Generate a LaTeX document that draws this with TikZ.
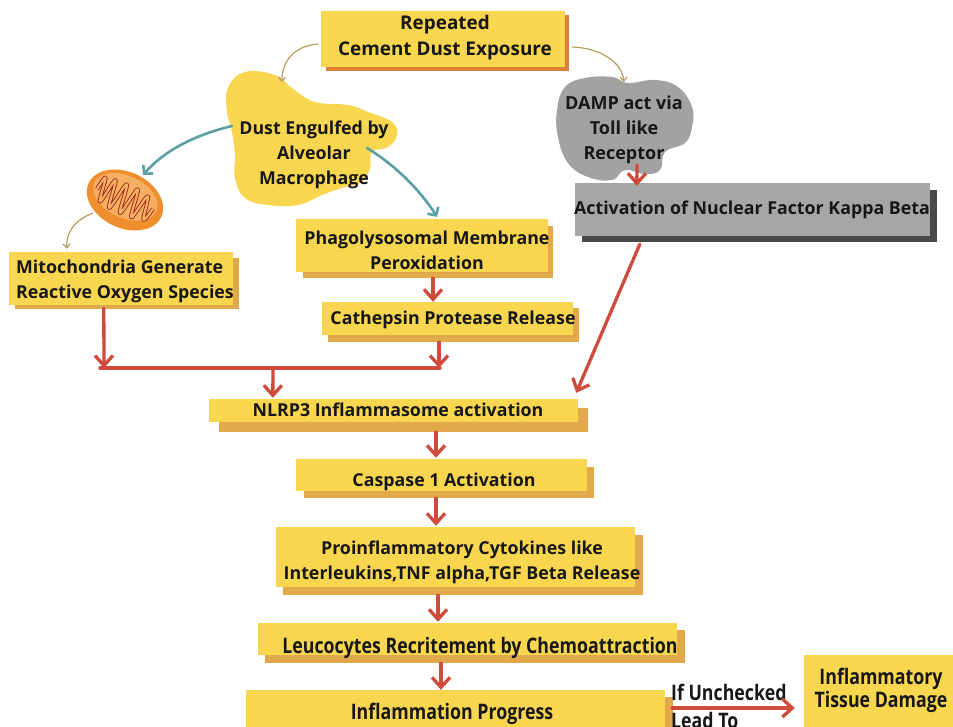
\documentclass[tikz,border=0pt]{standalone}
\usepackage{fontspec}
\setmainfont{Open Sans}
\newfontfamily\condfont{Open Sans}[FakeStretch=0.83]
\usetikzlibrary{arrows.meta,calc}
\definecolor{boxy}{HTML}{F9D650}
\definecolor{shy}{HTML}{E2A94B}
\definecolor{sho}{HTML}{DE7E36}
\definecolor{grayface}{HTML}{A6A6A6}
\definecolor{grayshadow}{HTML}{4A4A4A}
\definecolor{grayblob}{HTML}{A2A2A2}
\definecolor{redarr}{HTML}{CF4A3B}
\definecolor{tealarr}{HTML}{5B9FA7}
\definecolor{tanarr}{HTML}{B79C60}
\definecolor{ink}{HTML}{171717}
\definecolor{mitoout}{HTML}{EE8E2D}
\definecolor{mitoin}{HTML}{F6AF62}
\definecolor{crista}{HTML}{9E2A1C}
\begin{document}
\begin{tikzpicture}[x=1pt,y=-1pt,
 face/.style={fill=boxy, inner sep=0pt, draw=none},
 grayfacebox/.style={fill=grayface, inner sep=0pt, draw=none},
 txt/.style={inner sep=0pt, align=center, text=ink, font=\fontsize{17.8}{25}\selectfont\bfseries},
 ctxt/.style={inner sep=0pt, align=center, text=ink, font=\condfont\fontsize{21.4}{23}\selectfont\bfseries},
 btxt/.style={inner sep=0pt, align=center, text=ink, font=\fontsize{17.8}{25}\selectfont\bfseries},
 redline/.style={draw=redarr, line width=3.3pt, line cap=round, line join=round},
 redarrow/.style={redline, -{Straight Barb[length=10pt,width=18pt]}},
 tealarrow/.style={draw=tealarr, line width=2.6pt, line cap=round, -{Straight Barb[length=6pt,width=13pt]}},
 tanarrow/.style={draw=tanarr, line width=1.2pt, line cap=round, -{Straight Barb[length=4pt,width=7pt]}}
]
\useasboundingbox (0,0) rectangle (953,727);
\fill[white] (0,0) rectangle (953,727);

% shadows
\fill[sho] (326,15) rectangle (569,71);
\fill[shy] (15,258) rectangle (239,309);
\fill[shy] (303,226) rectangle (553,278);
\fill[shy] (328,308) rectangle (579,342);
\fill[shy] (219,408) rectangle (588,432);
\fill[shy] (304,467) rectangle (594,498);
\fill[shy] (283,535) rectangle (643,595);
\fill[shy] (265,630) rectangle (685,663);
\fill[shy] (253,697) rectangle (673,730);
\fill[grayshadow] (582,190) rectangle (937,242);

% faces
\node[face, minimum width=244pt, minimum height=56pt] (top) at (443,39) {};
\node[face, minimum width=224pt, minimum height=53pt] (mito) at (121,278.5) {};
\node[face, minimum width=252pt, minimum height=53pt] (phago) at (422,245.5) {};
\node[face, minimum width=251pt, minimum height=33pt] (cath) at (447.5,318.5) {};
\node[face, minimum width=369pt, minimum height=23pt] (nlrp) at (393.5,410.5) {};
\node[face, minimum width=291pt, minimum height=32pt] (casp) at (441.5,475) {};
\node[face, minimum width=359pt, minimum height=60pt] (pro) at (455.5,557) {};
\node[face, minimum width=419pt, minimum height=32pt] (leuco) at (467.5,639) {};
\node[face, minimum width=419pt, minimum height=40pt] (infl) at (455.5,710) {};
\node[face, minimum width=152pt, minimum height=74pt] (tissue) at (880,692) {};
\node[grayfacebox, minimum width=355pt, minimum height=53pt] (gray) at (752.5,209.5) {};

% blobs
\fill[boxy] plot[smooth cycle, tension=0.7] coordinates {(228,88) (245,72) (275,75) (292,88) (315,102) (348,105) (368,112) (392,122) (397,135) (388,147) (372,152) (370,168) (362,182) (342,188) (322,195) (298,205) (268,205) (245,198) (235,178) (235,155) (232,132) (227,112)};
\fill[grayblob] plot[smooth cycle, tension=0.7] coordinates {(565,87) (585,78) (612,77) (628,83) (655,80) (678,87) (692,107) (692,127) (685,143) (665,152) (660,170) (645,174) (625,170) (612,180) (588,177) (568,163) (558,137) (557,110)};

% mitochondrion
\begin{scope}[shift={(125,200)}, rotate=-25]
 \fill[mitoout] (0,0) ellipse [x radius=40, y radius=28];
 \fill[mitoin] (-1,-3) ellipse [x radius=34, y radius=21];
 \draw[crista, line width=0.9pt, double=mitoin, double distance=2.2pt, line join=round] plot[smooth, tension=0.6] coordinates {(-30,2) (-27,-12) (-22,12) (-17,-14) (-11,14) (-5,-15) (1,14) (7,-15) (13,13) (19,-13) (25,10) (29,-4)};
\end{scope}
\coordinate (mitoout) at (93,213);
\coordinate (mitoin) at (143,175);

% texts
\node[txt, font=\fontsize{18.9}{26}\selectfont\bfseries] (toptxt) at (445,37.5) {Repeated\\Cement Dust Exposure};
\node[btxt] (blobtxt) at (314,154.5) {Dust Engulfed by\\Alveolar\\Macrophage};
\node[btxt, font=\fontsize{18}{25}\selectfont\bfseries] (damp) at (624,129.5) {DAMP act via\\Toll like\\Receptor};
\node[txt] (graytxt) at (752,210) {Activation of Nuclear Factor Kappa Beta};
\node[txt, anchor=west, align=left] (mitotxt) at (16,281) {Mitochondria Generate\\Reactive Oxygen Species};
\node[txt] (phagotxt) at (427,250) {Phagolysosomal Membrane\\Peroxidation};
\node[txt] (cathtxt) at (453,320) {Cathepsin Protease Release};
\node[txt] (nlrptxt) at (398,409.5) {NLRP3 Inflammasome activation};
\node[txt] (casptxt) at (444,482) {Caspase 1 Activation};
\node[txt] (protxt) at (462,562) {Proinflammatory Cytokines like\\Interleukins,TNF alpha,TGF Beta Release};
\node[ctxt] (leucotxt) at (480,648) {Leucocytes Recritement by Chemoattraction};
\node[ctxt] (infltxt) at (452,714) {Inflammation Progress};
\node[ctxt] (tissuetxt) at (881,690) {Inflammatory\\Tissue Damage};
\node[ctxt, anchor=west] (iflabel) at (671,692) {If Unchecked};
\node[ctxt, anchor=west] (leadlabel) at (671,720) {Lead To};

% thin curved arrows
\draw[tanarrow] ($(top.west)+(-3,5)$) .. controls (295,46) and (282,60) .. (282,82);
\draw[tanarrow] ($(top.east)+(7,8)$) .. controls (600,48) and (622,62) .. (624,82);
\draw[tealarrow] (232,126) .. controls (195,135) and (165,150) .. (mitoin);
\draw[tealarrow] (367,148) .. controls (395,165) and (420,190) .. ($(phago.north)+(15,-2)$);
\draw[tanarrow] (mitoout) .. controls (75,220) and (66,232) .. ($(mito.north west)+(58,-3)$);

% red arrows
\coordinate (mergeL) at (100,368);
\coordinate (mergeR) at (440,368);
\coordinate (mergeC) at (273,368);
\draw[redarrow] (637,165) -- ($(gray.north west)+(62,3)$);
\draw[redarrow] ($(phago.south)+(11,6)$) -- ($(cath.north)+(-14.5,0)$);
\draw[redarrow] ($(mito.south west)+(95,3)$) -- (104,368);
\draw[redline] (mergeL) -- (mergeR);
\draw[redarrow] ($(cath.south)+(-8.5,7)$) -- (439,368);
\draw[redarrow] (mergeC) -- ($(nlrp.north west)+(64,-1)$);
\draw[redarrow] ($(gray.south west)+(65,8)$) -- ($(nlrp.north east)+(-2,-6)$);
\draw[redarrow] ($(nlrp.south)+(42.5,10)$) -- ($(casp.north)+(-5.5,-1)$);
\draw[redarrow] ($(casp.south)+(-5.5,7)$) -- ($(pro.north)+(-19.5,-1)$);
\draw[redarrow] ($(pro.south)+(-17.5,8)$) -- ($(leuco.north)+(-29.5,-1)$);
\draw[redarrow] ($(leuco.south)+(-26.5,8)$) -- ($(infl.north)+(-14.5,0)$);
\draw[redarrow] ($(infl.east)+(7,-2)$) -- ($(tissue.west)+(-9,16)$);
\end{tikzpicture}
\end{document}
